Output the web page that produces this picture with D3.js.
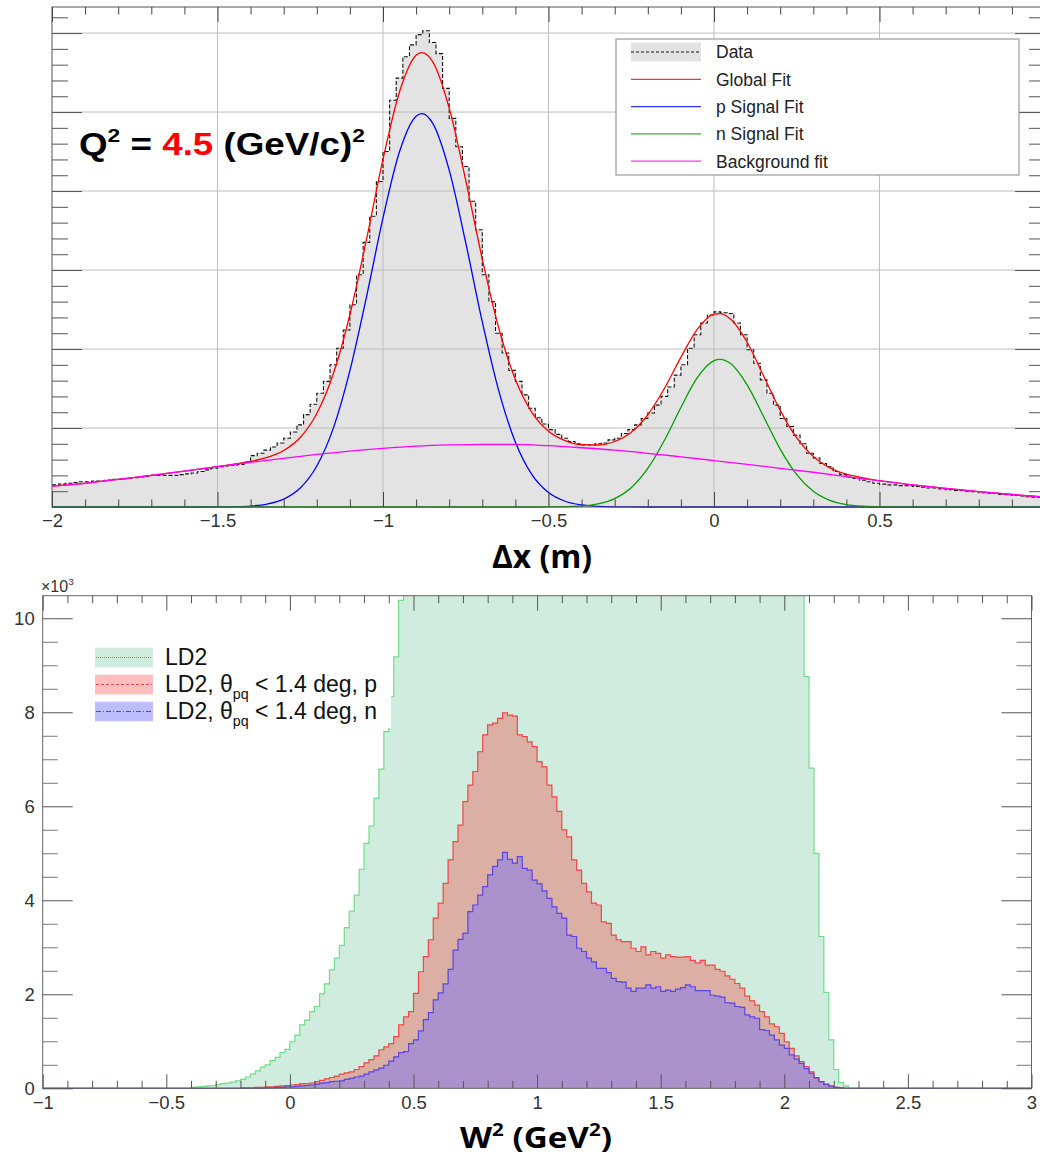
<!DOCTYPE html>
<html lang="en">
<head>
<meta charset="UTF-8">
<title>Delta x and W2 distributions</title>
<script src="https://d3js.org/d3.v7.min.js"></script>
<style>
  body { margin: 0; background: #fff; }
  svg { display: block; font-family: "Liberation Sans", Arial, Helvetica, sans-serif; }
</style>
</head>
<body>
<svg id="chart" width="1040" height="1156"></svg>
<script>
// ---------- top panel: delta-x histogram (counts, arbitrary units) ----------
const dxStart = -2.0;
const dxBinWidth = 0.02;
const dxCounts = [
  28, 29, 30, 31, 32, 32, 33, 33, 34, 35,
  35, 36, 37, 38, 39, 40, 40, 40, 40, 41,
  42, 43, 45, 47, 49, 51, 52, 53, 54, 57,
  65, 68, 72, 76, 81, 87, 95, 104, 117, 130,
  144, 159, 180, 201, 224, 256, 294, 335, 368, 412,
  450, 515, 543, 570, 585, 598, 603, 588, 574, 530,
  492, 456, 431, 387, 351, 294, 260, 220, 195, 173,
  159, 142, 125, 113, 105, 98, 92, 87, 83, 80,
  78.5, 78.5, 80, 81, 85, 87, 93, 98, 104, 112,
  119, 129, 140, 152, 167, 180, 201, 218, 233, 243,
  247, 246, 245, 233, 218, 199, 182, 161, 144, 129,
  112, 102, 91, 80, 68, 62, 55, 51, 45, 41,
  38, 36, 34, 32, 30, 29, 28, 28, 27, 27,
  26, 25, 24, 24, 23, 22, 21, 21, 20, 19.5,
  18, 17.5, 17, 16, 15.5, 14.5, 14, 13, 12.5, 12
];

// fit curves, [dx, counts]
const globalFit = [
  [-2, 26.6], [-1.9, 30], [-1.8, 35], [-1.7, 40], [-1.6, 45.5], [-1.55, 48.3], [-1.5, 51.1],
  [-1.45, 54.2], [-1.4, 57.7], [-1.35, 62.7], [-1.3, 71.5], [-1.25, 88], [-1.2, 118.4],
  [-1.15, 168.6], [-1.1, 243.4], [-1.05, 338.4], [-1.0, 440.3], [-0.95, 525.7], [-0.9, 571.8],
  [-0.883, 575.3], [-0.85, 563.9], [-0.8, 505], [-0.75, 413.5], [-0.7, 313.7], [-0.65, 226],
  [-0.6, 161.3], [-0.55, 119.5], [-0.5, 96], [-0.45, 84.1], [-0.4, 78.9], [-0.35, 78.5],
  [-0.3, 82.9], [-0.25, 94.6], [-0.2, 116.8], [-0.15, 150], [-0.1, 189.5], [-0.05, 225.2],
  [0, 244.1], [0.018, 244.9], [0.05, 238], [0.1, 208.6], [0.15, 165.8], [0.2, 122.3],
  [0.25, 87.4], [0.3, 63.8], [0.35, 49.6], [0.4, 41.5], [0.45, 36.8], [0.5, 33.3],
  [0.6, 28], [0.7, 23.5], [0.8, 19.5], [0.9, 15.8], [1.0, 12.5]
];
const pSignalFit = [
  [-2, 0], [-1.6, 0], [-1.5, 0.1], [-1.45, 0.4], [-1.4, 1.2], [-1.35, 3.7], [-1.3, 9.9],
  [-1.25, 24], [-1.2, 51.9], [-1.15, 99.9], [-1.1, 172.6], [-1.05, 265.8], [-1.0, 366],
  [-0.95, 450], [-0.9, 494.8], [-0.883, 498], [-0.85, 486], [-0.8, 426.4], [-0.75, 334.4],
  [-0.7, 234.3], [-0.65, 146.6], [-0.6, 82.1], [-0.55, 41], [-0.5, 18.3], [-0.45, 7.3],
  [-0.4, 2.6], [-0.35, 0.8], [-0.3, 0.2], [-0.2, 0], [1, 0]
];
const nSignalFit = [
  [-2, 0], [-0.55, 0], [-0.5, 0.1], [-0.45, 0.4], [-0.4, 1.3], [-0.35, 4.1], [-0.3, 10.7],
  [-0.25, 24.5], [-0.2, 48.8], [-0.15, 84.2], [-0.1, 126], [-0.05, 164], [0, 185.3],
  [0.018, 187], [0.05, 181.6], [0.1, 154.6], [0.15, 114.3], [0.2, 73.3], [0.25, 40.9],
  [0.3, 19.8], [0.35, 8.3], [0.4, 3.0], [0.45, 1.0], [0.5, 0.3], [0.55, 0.1], [0.6, 0], [1, 0]
];
const backgroundFit = [
  [-2, 26.6], [-1.9, 30], [-1.8, 35], [-1.7, 40], [-1.6, 45.5], [-1.5, 51], [-1.4, 56.5],
  [-1.3, 61.6], [-1.2, 66.5], [-1.1, 70.8], [-1.0, 74.3], [-0.9, 77], [-0.8, 78.6],
  [-0.7, 79.4], [-0.6, 79.2], [-0.5, 77.6], [-0.4, 75], [-0.3, 72], [-0.2, 68], [-0.1, 63.5],
  [0, 58.8], [0.1, 54], [0.2, 49], [0.3, 44], [0.4, 38.5], [0.5, 33], [0.6, 28],
  [0.7, 23.5], [0.8, 19.5], [0.9, 15.8], [1.0, 12.5]
];
const dxTicks = [-2, -1.5, -1, -0.5, 0, 0.5, 1];
const dxGrid = [-1.5, -1, -0.5, 0, 0.5];
const topLegend = ["Data", "Global Fit", "p Signal Fit", "n Signal Fit", "Background fit"];

// ---------- bottom panel: W^2 histograms (x10^3 counts) ----------
const w2BinWidth = 0.02;
const ld2Start = -0.40;
const ld2Counts = [
  0.02, 0.03, 0.04, 0.05, 0.06, 0.08, 0.10, 0.11, 0.13, 0.16,
  0.19, 0.24, 0.30, 0.37, 0.45, 0.50, 0.59, 0.66, 0.76, 0.83,
  0.99, 1.13, 1.35, 1.45, 1.63, 1.74, 2.01, 2.22, 2.52, 2.77,
  3.04, 3.42, 3.77, 4.11, 4.66, 5.21, 5.58, 6.17, 6.79, 7.59,
  8.33, 9.18, 10.38,
  // off-scale plateau (above the frame)
  11.6, 12.9, 14.1, 15.6, 17.0, 18.4, 19.9, 21.3, 22.6, 23.8,
  24.9, 25.8, 26.7, 27.4, 28.0, 28.5, 28.8, 29.0, 29.1, 29.0,
  28.8, 28.5, 28.1, 27.6, 27.0, 26.4, 25.8, 25.1, 24.5, 23.9,
  23.3, 22.8, 22.3, 21.9, 21.5, 21.2, 20.9, 20.7, 20.5, 20.3,
  20.2, 20.1, 20.0, 19.9, 19.9, 19.8, 19.8, 19.7, 19.7, 19.6,
  19.6, 19.5, 19.5, 19.4, 19.3, 19.2, 19.1, 19.0, 18.8, 18.6,
  18.4, 18.1, 17.8, 17.5, 17.1, 16.7, 16.3, 15.9, 15.5, 15.1,
  14.7, 14.3, 13.9, 13.5, 13.1, 12.7, 12.3, 11.9, 11.5, 11.1,
  10.8,
  8.76, 6.81, 5.00, 3.23, 2.04, 1.03, 0.40, 0.12, 0.05
];
const pStart = -0.20;
const pCounts = [
  0.01, 0.01, 0.01, 0.02, 0.02, 0.03, 0.03, 0.04, 0.05, 0.06,
  0.07, 0.08, 0.10, 0.10, 0.11, 0.14, 0.17, 0.20, 0.23, 0.26,
  0.30, 0.33, 0.35, 0.40, 0.46, 0.54, 0.61, 0.69, 0.82, 0.88,
  0.95, 1.10, 1.35, 1.52, 1.63, 2.02, 2.48, 2.80, 3.16, 3.62,
  3.94, 4.36, 4.86, 5.25, 5.60, 6.10, 6.45, 6.74, 7.16, 7.52,
  7.73, 7.77, 7.87, 7.99, 7.94, 7.92, 7.52, 7.48, 7.37, 7.27,
  6.95, 6.84, 6.45, 6.20, 5.89, 5.50, 5.35, 4.86, 4.64, 4.36,
  4.18, 3.94, 3.90, 3.54, 3.51, 3.26, 3.16, 3.12, 3.12, 2.98,
  2.91, 3.01, 2.84, 2.91, 2.87, 2.77, 2.84, 2.80, 2.79, 2.79,
  2.80, 2.72, 2.67, 2.72, 2.62, 2.62, 2.53, 2.49, 2.39, 2.32,
  2.23, 2.13, 1.96, 1.86, 1.77, 1.63, 1.52, 1.37, 1.31, 1.17,
  0.99, 0.85, 0.69, 0.57, 0.46, 0.35, 0.21, 0.14, 0.08, 0.03,
  0.02, 0.01
];
const nStart = -0.10;
const nCounts = [
  0.01, 0.01, 0.02, 0.02, 0.03, 0.03, 0.04, 0.05, 0.06, 0.07,
  0.09, 0.11, 0.12, 0.14, 0.15, 0.16, 0.19, 0.21, 0.24, 0.26,
  0.30, 0.35, 0.39, 0.43, 0.49, 0.58, 0.67, 0.76, 0.78, 0.95,
  1.03, 1.22, 1.46, 1.61, 1.88, 2.03, 2.22, 2.53, 2.94, 3.17,
  3.30, 3.76, 3.90, 4.11, 4.29, 4.54, 4.72, 4.86, 5.02, 4.87,
  4.79, 4.93, 4.68, 4.64, 4.43, 4.35, 4.20, 4.04, 3.86, 3.72,
  3.62, 3.26, 3.23, 2.98, 2.91, 2.77, 2.69, 2.55, 2.55, 2.46,
  2.34, 2.27, 2.26, 2.13, 2.06, 2.13, 2.13, 2.20, 2.13, 2.16,
  2.06, 2.09, 2.06, 2.11, 2.14, 2.20, 2.16, 2.08, 2.08, 2.08,
  1.98, 1.96, 1.94, 1.82, 1.81, 1.74, 1.72, 1.56, 1.52, 1.49,
  1.25, 1.23, 1.13, 1.03, 0.92, 0.85, 0.71, 0.62, 0.53, 0.42,
  0.32, 0.23, 0.14, 0.09, 0.05, 0.02, 0.01
];
const w2Ticks = [-1, -0.5, 0, 0.5, 1, 1.5, 2, 2.5, 3];
const w2YTicks = [0, 2, 4, 6, 8, 10];
const bottomLegend = ["LD2", "LD2, θ|pq| < 1.4 deg, p", "LD2, θ|pq| < 1.4 deg, n"];

const svg = d3.select("#chart");
svg.append("rect").attr("width", 1040).attr("height", 1156).attr("fill", "#fff");
const defs = svg.append("defs");
const fmt = d3.format("~g");

// draws text made of parts, some of them super/subscript, then stretches it to a given width
function richText(g, parts, size, opts) {
  const t = g.append("text").attr("font-size", size)
    .attr("font-family", opts.family || null)
    .attr("font-weight", opts.weight || null)
    .attr("fill", opts.fill || "#000");
  let shift = 0;
  parts.forEach(p => {
    const want = p.sup ? -0.42 * size : p.sub ? 0.28 * size : 0;
    t.append("tspan")
      .attr("dy", want - shift)
      .attr("font-size", p.sup || p.sub ? size * 0.62 : size)
      .attr("fill", p.fill || null)
      .text(p.t);
    shift = want;
  });
  if (opts.width) {
    const w = t.node().getComputedTextLength();
    t.attr("transform", `scale(${opts.width / w},1)`);
  }
  return t;
}

function stepPoints(start, counts, width, lo, hi) {
  const pts = [[lo, 0]];
  counts.forEach((c, i) => pts.push([start + i * width, c]));
  pts.push([start + counts.length * width, 0]);
  pts.push([hi, 0]);
  return pts;
}

// =====================================================================
// TOP PANEL
// =====================================================================
const x1 = d3.scaleLinear().domain([-2, 1]).range([52, 1045]);
const y1 = d3.scaleLinear().domain([0, 633]).range([507, 7]);

defs.append("clipPath").attr("id", "clipTop")
  .append("rect").attr("x", 52).attr("y", 7).attr("width", 993).attr("height", 501);

const topG = svg.append("g");
const plotTop = topG.append("g").attr("clip-path", "url(#clipTop)");

const dxBins = dxCounts.map((c, i) => [dxStart + i * dxBinWidth, c]);
dxBins.push([dxStart + dxCounts.length * dxBinWidth, dxCounts[dxCounts.length - 1]]);

plotTop.append("path").datum(dxBins)
  .attr("fill", "#e3e3e3")
  .attr("d", d3.area().curve(d3.curveStepAfter)
    .x(d => x1(d[0])).y0(y1(0)).y1(d => y1(d[1])));

// grid
plotTop.selectAll(".vgrid").data(dxGrid).join("line")
  .attr("x1", d => x1(d)).attr("x2", d => x1(d))
  .attr("y1", y1.range()[1]).attr("y2", y1.range()[0])
  .attr("stroke", "#bdbdbd").attr("stroke-width", 1);
plotTop.selectAll(".hgrid").data(y1.ticks(6).filter(d => d > 0)).join("line")
  .attr("x1", 52).attr("x2", 1045)
  .attr("y1", d => y1(d)).attr("y2", d => y1(d))
  .attr("stroke", "#bdbdbd").attr("stroke-width", 1);

plotTop.append("path").datum(dxBins)
  .attr("fill", "none").attr("stroke", "#111").attr("stroke-width", 1.1)
  .attr("stroke-dasharray", "4,2")
  .attr("d", d3.line().curve(d3.curveStepAfter).x(d => x1(d[0])).y(d => y1(d[1])));

topG.append("rect").attr("x", 52).attr("y", 7).attr("width", 993).attr("height", 500)
  .attr("fill", "none").attr("stroke", "#555");

const fitLine = d3.line().curve(d3.curveMonotoneX).x(d => x1(d[0])).y(d => y1(d[1]));
const fits = [
  [globalFit, "#ff0000"],
  [pSignalFit, "#0000ff"],
  [nSignalFit, "#00a000"],
  [backgroundFit, "#ff00ff"]
];
fits.forEach(([pts, col]) => {
  plotTop.append("path").datum(pts)
    .attr("fill", "none").attr("stroke", col).attr("stroke-width", 1.3)
    .attr("d", fitLine);
});

// axes of the top panel
function styleAxis(g, color, size) {
  g.attr("color", color);
  g.select(".domain").remove();
  g.selectAll(".tick text").attr("fill", "#333").attr("font-size", size || 18)
    .attr("font-family", "'Liberation Sans', Arial, sans-serif");
}
const dxMinor = d3.range(-20, 11).map(i => i / 10).filter(v => !dxTicks.includes(v));
topG.append("g").attr("transform", "translate(0,507)")
  .call(d3.axisBottom(x1).tickValues(dxTicks).tickSize(-15).tickPadding(7).tickFormat(fmt))
  .call(styleAxis, "#444", 18.5);
topG.append("g").attr("transform", "translate(0,507)")
  .call(d3.axisBottom(x1).tickValues(dxMinor).tickSize(-7.5).tickFormat(""))
  .call(styleAxis, "#444");
topG.append("g").attr("transform", "translate(0,7)")
  .call(d3.axisTop(x1).tickValues(dxTicks).tickSize(-15).tickFormat(""))
  .call(styleAxis, "#444");
topG.append("g").attr("transform", "translate(0,7)")
  .call(d3.axisTop(x1).tickValues(dxMinor).tickSize(-7.5).tickFormat(""))
  .call(styleAxis, "#444");
const dyMajor = y1.ticks(6);
const dyMinor = d3.range(0, 634, 20).filter(v => v % 100 !== 0);
topG.append("g").attr("transform", "translate(52,0)")
  .call(d3.axisLeft(y1).tickValues(dyMajor).tickSize(-30).tickFormat(""))
  .call(styleAxis, "#555");
topG.append("g").attr("transform", "translate(52,0)")
  .call(d3.axisLeft(y1).tickValues(dyMinor).tickSize(-16).tickFormat(""))
  .call(styleAxis, "#555");
topG.append("g").attr("transform", "translate(1045,0)")
  .call(d3.axisRight(y1).tickValues(dyMajor).tickSize(-30).tickFormat(""))
  .call(styleAxis, "#555");
topG.append("g").attr("transform", "translate(1045,0)")
  .call(d3.axisRight(y1).tickValues(dyMinor).tickSize(-16).tickFormat(""))
  .call(styleAxis, "#555");

// Q^2 label
richText(topG.append("g").attr("transform", "translate(79,155)"), [
  { t: "Q" }, { t: "2", sup: true }, { t: " = " }, { t: "4.5", fill: "#ff0000" },
  { t: " (GeV/c)" }, { t: "2", sup: true }
], 31, { weight: "bold", width: 286 });

// legend of the top panel
const legT = topG.append("g");
legT.append("rect").attr("x", 616).attr("y", 39).attr("width", 403).attr("height", 136)
  .attr("fill", "#fff").attr("stroke", "#999").attr("stroke-width", 1.2);
const legColors = [null, "#ff0000", "#0000ff", "#00a000", "#ff00ff"];
topLegend.forEach((name, i) => {
  const cy = 52 + i * 27.3;
  if (i === 0) {
    legT.append("rect").attr("x", 631).attr("y", cy - 9.5).attr("width", 70).attr("height", 19)
      .attr("fill", "#e3e3e3");
    legT.append("line").attr("x1", 631).attr("x2", 701).attr("y1", cy).attr("y2", cy)
      .attr("stroke", "#111").attr("stroke-dasharray", "3,2");
  } else {
    legT.append("line").attr("x1", 631).attr("x2", 701).attr("y1", cy).attr("y2", cy)
      .attr("stroke", legColors[i]).attr("stroke-width", 1.3).attr("opacity", 0.8);
  }
  legT.append("text").attr("x", 716).attr("y", cy).attr("dy", "0.36em")
    .attr("font-size", 17.5).attr("fill", "#222").text(name);
});

// x title of the top panel
richText(topG.append("g").attr("transform", "translate(492,568)"), [
  { t: "Δx (m)" }
], 33, { family: "'Open Sans', sans-serif", weight: "bold", width: 100 });

// =====================================================================
// BOTTOM PANEL
// =====================================================================
const x2 = d3.scaleLinear().domain([-1, 3]).range([42.7, 1031.5]);
const y2 = d3.scaleLinear().domain([0, 10.48]).range([1088.3, 595.7]);

defs.append("clipPath").attr("id", "clipBot")
  .append("rect").attr("x", 42.7).attr("y", 595.7).attr("width", 988.8).attr("height", 493.6);

const botG = svg.append("g");
const plotBot = botG.append("g").attr("clip-path", "url(#clipBot)");

const series = [
  { pts: stepPoints(ld2Start, ld2Counts, w2BinWidth, -1, 3), fill: "#d0ecde", line: "#72dc8a" },
  { pts: stepPoints(pStart, pCounts, w2BinWidth, -1, 3), fill: "rgba(255,0,0,0.26)", line: "#f04646" },
  { pts: stepPoints(nStart, nCounts, w2BinWidth, -1, 3), fill: "rgba(110,110,255,0.45)", line: "#5a46e6" }
];
const stepArea = d3.area().curve(d3.curveStepAfter).x(d => x2(d[0])).y0(y2(0)).y1(d => y2(d[1]));
const stepLine = d3.line().curve(d3.curveStepAfter).x(d => x2(d[0])).y(d => y2(d[1]));

series.forEach(s => {
  plotBot.append("path").datum(s.pts).attr("fill", s.fill).attr("d", stepArea);
  plotBot.append("path").datum(s.pts).attr("fill", "none")
    .attr("stroke", s.line).attr("stroke-width", 1.2).attr("d", stepLine);
});

// legend box of the bottom panel hides what lies under it
const legB = botG.append("g");
legB.append("rect").attr("x", 82).attr("y", 633).attr("width", 309).attr("height", 95)
  .attr("fill", "#fff");

botG.append("rect").attr("x", 42.7).attr("y", 595.7).attr("width", 988.8).attr("height", 492.6)
  .attr("fill", "none").attr("stroke", "#666");

const w2Minor = d3.range(-10, 31).map(i => i / 10).filter(v => !w2Ticks.includes(v));
const w2YMinor = d3.range(1, 21).map(i => i / 2).filter(v => !w2YTicks.includes(v));
botG.append("g").attr("transform", "translate(0,1088.3)")
  .call(d3.axisBottom(x2).tickValues(w2Ticks).tickSize(-14).tickPadding(8).tickFormat(fmt))
  .call(styleAxis, "#555", 18.5);
botG.append("g").attr("transform", "translate(0,1088.3)")
  .call(d3.axisBottom(x2).tickValues(w2Minor).tickSize(-7.5).tickFormat(""))
  .call(styleAxis, "#555");
botG.append("g").attr("transform", "translate(0,595.7)")
  .call(d3.axisTop(x2).tickValues(w2Ticks).tickSize(-15).tickFormat(""))
  .call(styleAxis, "#555");
botG.append("g").attr("transform", "translate(0,595.7)")
  .call(d3.axisTop(x2).tickValues(w2Minor).tickSize(-7.5).tickFormat(""))
  .call(styleAxis, "#555");
botG.append("g").attr("transform", "translate(42.7,0)")
  .call(d3.axisLeft(y2).tickValues(w2YTicks).tickSize(-30).tickPadding(8).tickFormat(fmt))
  .call(styleAxis, "#555", 18.5);
botG.append("g").attr("transform", "translate(42.7,0)")
  .call(d3.axisLeft(y2).tickValues(w2YMinor).tickSize(-15).tickFormat(""))
  .call(styleAxis, "#777");
botG.append("g").attr("transform", "translate(1031.5,0)")
  .call(d3.axisRight(y2).tickValues(w2YTicks).tickSize(-30).tickFormat(""))
  .call(styleAxis, "#555");
botG.append("g").attr("transform", "translate(1031.5,0)")
  .call(d3.axisRight(y2).tickValues(w2YMinor).tickSize(-15).tickFormat(""))
  .call(styleAxis, "#777");

// x10^3 exponent
richText(botG.append("g").attr("transform", "translate(41,592)"), [
  { t: "×10" }, { t: "3", sup: true }
], 16, { fill: "#333" });

// legend entries
const legFill = ["#d0ecde", "rgba(255,0,0,0.26)", "rgba(110,110,255,0.45)"];
const legLine = ["#2fa84f", "#e03c3c", "#3c3ce0"];
const legDash = ["1,1", "3,2", "5,2,1,2"];
bottomLegend.forEach((name, i) => {
  const cy = 657.5 + i * 27;
  legB.append("rect").attr("x", 95).attr("y", cy - 9.8).attr("width", 58).attr("height", 19.6)
    .attr("fill", legFill[i]);
  legB.append("line").attr("x1", 96).attr("x2", 152).attr("y1", cy).attr("y2", cy)
    .attr("stroke", legLine[i]).attr("stroke-width", 0.9).attr("stroke-dasharray", legDash[i]);
  const parts = name.split("|").map((t, j) => ({ t, sub: j === 1 }));
  richText(legB.append("g").attr("transform", `translate(165,${cy + 7.8})`), parts, 23, { fill: "#111" });
});

// x title of the bottom panel
richText(botG.append("g").attr("transform", "translate(460,1148)"), [
  { t: "W" }, { t: "2", sup: true }, { t: " (GeV" }, { t: "2", sup: true }, { t: ")" }
], 29, { family: "'Open Sans', sans-serif", weight: "bold", width: 152 });
</script>
</body>
</html>
